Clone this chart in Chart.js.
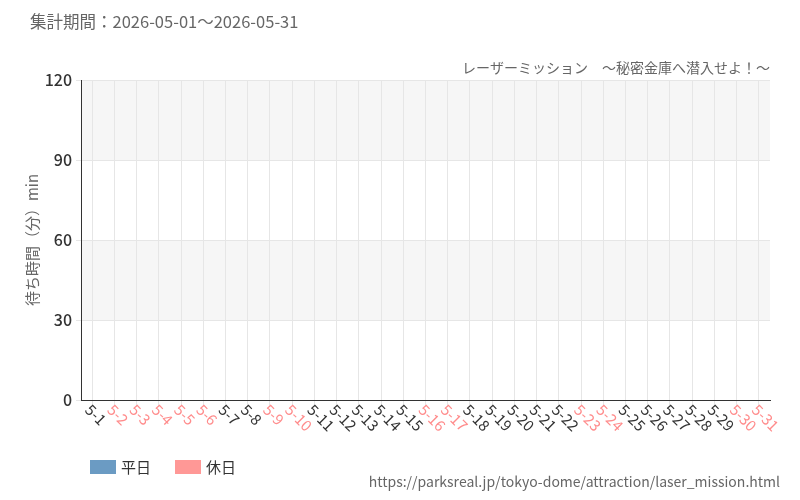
<!DOCTYPE html>
<html><head><meta charset="utf-8">
<script src="https://cdn.jsdelivr.net/npm/chart.js@4"></script>
<style>body{margin:0;background:#fff}#w{width:800px;height:500px}</style>
</head><body><div id="w"><canvas id="c"></canvas></div>
<script>
const categories=["5-1","5-2","5-3","5-4","5-5","5-6","5-7","5-8","5-9","5-10","5-11","5-12","5-13","5-14","5-15","5-16","5-17","5-18","5-19","5-20","5-21","5-22","5-23","5-24","5-25","5-26","5-27","5-28","5-29","5-30","5-31"];
const holidays=["5-2","5-3","5-4","5-5","5-6","5-9","5-10","5-16","5-17","5-23","5-24","5-30","5-31"];
const weekdayValues=categories.map(()=>null);
const holidayValues=categories.map(()=>null);
const yTicks=[0,30,60,90,120];
const F='"Noto Sans CJK JP","Noto Sans",sans-serif';
const deco={id:'deco',
beforeDraw(ch){const {ctx,chartArea:a,scales:{y}}=ch;ctx.save();ctx.fillStyle='#f6f6f6';
[[30,60],[90,120]].forEach(([l,h])=>{ctx.fillRect(a.left,y.getPixelForValue(h),a.right-a.left,y.getPixelForValue(l)-y.getPixelForValue(h));});ctx.restore();},
afterDraw(ch){const {ctx,chartArea:a,scales:{x}}=ch;ctx.save();ctx.font='15px '+F;
categories.forEach((c,i)=>{const px=x.getPixelForValue(i);ctx.save();ctx.translate(px-4,a.bottom+7);ctx.rotate(Math.PI/4);ctx.fillStyle=holidays.includes(c)?'#ff8c8c':'#333';ctx.textAlign='left';ctx.textBaseline='middle';ctx.fillText(c,0,0);ctx.restore();});
ctx.fillStyle='#666';ctx.font='16.5px '+F;ctx.textBaseline='middle';ctx.textAlign='left';ctx.fillText('集計期間：2026-05-01～2026-05-31',30,22);
ctx.font='14px '+F;ctx.textAlign='right';ctx.fillText('レーザーミッション　～秘密金庫へ潜入せよ！～',770,68);
ctx.fillText('https://parksreal.jp/tokyo-dome/attraction/laser_mission.html',780,482);
ctx.save();ctx.translate(32,240);ctx.rotate(-Math.PI/2);ctx.textAlign='center';ctx.font='15px '+F;ctx.fillText('待ち時間（分）min',0,0);ctx.restore();
ch.data.datasets.forEach((d,i)=>{const lx=90+i*85;ctx.fillStyle=d.backgroundColor;ctx.fillRect(lx,460,26,14);ctx.fillStyle='#333';ctx.textAlign='left';ctx.font='15px '+F;ctx.fillText(d.label,lx+31,467);});
ctx.restore();}};
new Chart(document.getElementById('c'),{type:'bar',
data:{labels:categories,datasets:[{label:'平日',data:weekdayValues,backgroundColor:'#6b9bc3'},{label:'休日',data:holidayValues,backgroundColor:'#ff9896'}]},
options:{responsive:true,maintainAspectRatio:false,animation:false,
layout:{padding:{top:80,right:30,left:0,bottom:0}},
plugins:{legend:{display:false},tooltip:{enabled:false}},
scales:{
x:{afterFit:s=>{s.height=100;},ticks:{display:false},grid:{color:'#e6e6e6',tickLength:6,offset:false},border:{color:'#333'}},
y:{min:0,max:120,afterFit:s=>{s.width=81;},afterBuildTicks:s=>{s.ticks=yTicks.map(v=>({value:v}));},ticks:{font:{size:16,family:F,weight:'500'},color:'#333',padding:4},grid:{color:'#e6e6e6',tickLength:5},border:{color:'#333'}}}},
plugins:[deco]});
</script></body></html>
